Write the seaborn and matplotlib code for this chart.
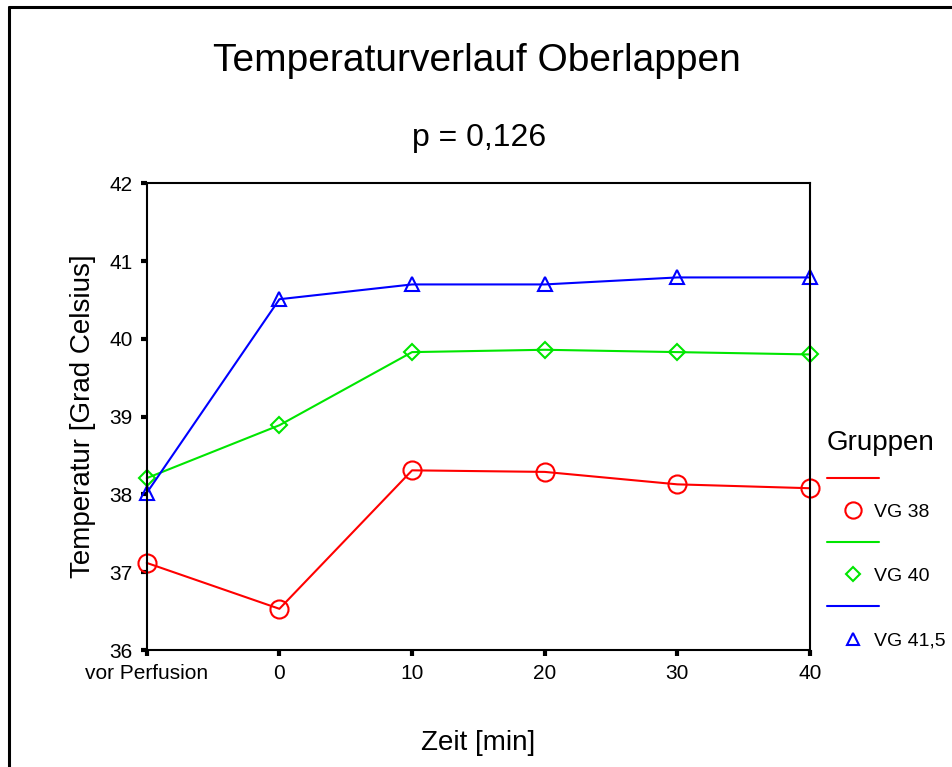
import matplotlib.pyplot as plt
import matplotlib.lines as mlines
import pandas as pd
import seaborn as sns

# Daten
zeit_labels = ["vor Perfusion", "0", "10", "20", "30", "40"]
gruppen = ["VG 38", "VG 40", "VG 41,5"]
vg38 = [37.12, 36.53, 38.31, 38.29, 38.13, 38.08]
vg40 = [38.21, 38.89, 39.83, 39.86, 39.83, 39.80]
vg415 = [38.02, 40.51, 40.70, 40.70, 40.79, 40.79]

farben = ["#ff0000", "#00e600", "#0000ff"]
marker = ["o", "D", "^"]
marker_groesse = [13, 8, 10]

# long-form Tabelle fuer seaborn
rows = []
for g, werte in zip(gruppen, [vg38, vg40, vg415]):
    for i, w in enumerate(werte):
        rows.append({"pos": i, "temp": w, "gruppe": g})
df = pd.DataFrame(rows)

sns.set_style("ticks")
plt.rcParams["font.family"] = ["Liberation Sans", "DejaVu Sans"]
plt.rcParams["text.color"] = "black"
plt.rcParams["axes.labelcolor"] = "black"
plt.rcParams["xtick.color"] = "black"
plt.rcParams["ytick.color"] = "black"

fig = plt.figure(figsize=(9.53, 7.67), dpi=100)
ax = fig.add_axes([0.154, 0.1525, 0.696, 0.6085])

for g, c, m, ms in zip(gruppen, farben, marker, marker_groesse):
    sns.lineplot(data=df[df["gruppe"] == g], x="pos", y="temp", ax=ax,
                 color=c, marker=m, markersize=ms, markerfacecolor="none",
                 markeredgecolor=c, markeredgewidth=1.5, linewidth=1.5,
                 clip_on=False, legend=False)

ax.set_xlim(0, len(zeit_labels) - 1)
ax.set_ylim(36, 42)
ax.set_xticks(range(len(zeit_labels)))
ax.set_xticklabels(zeit_labels)
ax.set_yticks(range(36, 43))

for s in ax.spines.values():
    s.set_color("black")
    s.set_linewidth(1.5)
ax.tick_params(direction="out", length=4, width=3, labelsize=15, color="black", pad=6)

ax.set_xlabel("Zeit [min]", fontsize=20, labelpad=34)
ax.set_ylabel("Temperatur [Grad Celsius]", fontsize=20, labelpad=10)

fig.text(0.5, 0.92, "Temperaturverlauf Oberlappen", ha="center", va="center", fontsize=28)
fig.text(0.503, 0.82, "p = 0,126", ha="center", va="center", fontsize=23)

# Legende im SPSS-Stil: Linie, dann Marker mit Beschriftung
handles = []
labels = []
for g, c, m, ms in zip(gruppen, farben, marker, marker_groesse):
    handles.append(mlines.Line2D([], [], color=c, linewidth=1.5))
    labels.append(" ")
    handles.append(mlines.Line2D([], [], color=c, linestyle="none", marker=m,
                                 markersize=ms * 0.9, markerfacecolor="none",
                                 markeredgewidth=1.5))
    labels.append(g)
leg = ax.legend(handles, labels, title="Gruppen", loc="upper left",
                bbox_to_anchor=(1.005, 0.50), frameon=False, fontsize=14,
                title_fontsize=20, handlelength=2.7, labelspacing=0.75,
                handletextpad=-0.3, borderaxespad=0.3)
leg._legend_box.align = "left"

# Rahmen oben und links
fig.add_artist(mlines.Line2D([0.0094, 0.0094], [0, 0.991], transform=fig.transFigure,
                             color="black", linewidth=2.2))
fig.add_artist(mlines.Line2D([0.0094, 1.0], [0.991, 0.991], transform=fig.transFigure,
                             color="black", linewidth=2.2))

fig.savefig("out.png", dpi=100)
